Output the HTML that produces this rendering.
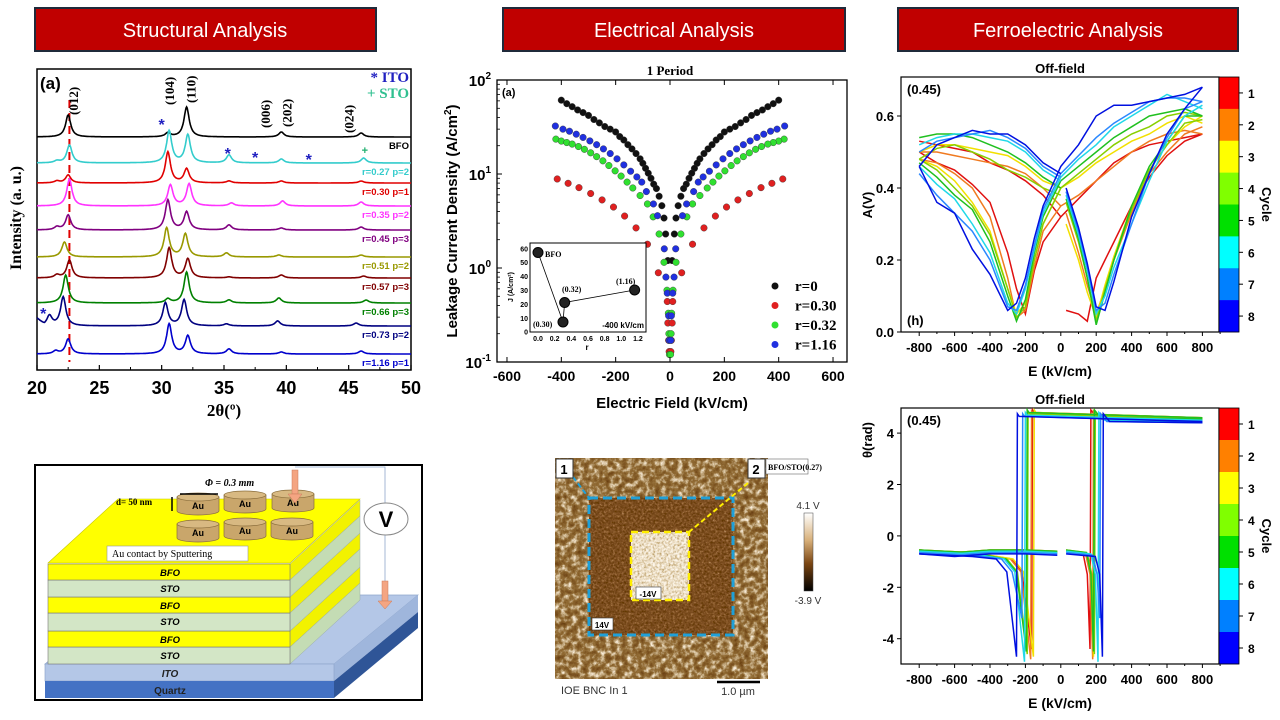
<!DOCTYPE html>
<html><head><meta charset="utf-8"><title>BFO/STO analysis</title>
<style>
html,body{margin:0;padding:0;background:#fff;}
svg{display:block;font-family:"Liberation Sans",sans-serif;}
</style></head>
<body>
<svg id="root" width="1280" height="720" viewBox="0 0 1280 720" xmlns="http://www.w3.org/2000/svg">
<defs>
<filter id="pfmMix" filterUnits="userSpaceOnUse" x="555" y="458" width="213" height="221">
<feTurbulence type="fractalNoise" baseFrequency="0.18" numOctaves="4" seed="4"/>
<feColorMatrix type="matrix" values="1 0 0 0 0 1 0 0 0 0 1 0 0 0 0 0 0 0 0 1"/>
<feComponentTransfer><feFuncR type="table" tableValues="0.12 0.16 0.22 0.3 0.6 0.95 1"/><feFuncG type="table" tableValues="0.05 0.06 0.1 0.16 0.45 0.85 1"/><feFuncB type="table" tableValues="0 0.01 0.02 0.04 0.25 0.7 0.9"/></feComponentTransfer>
</filter>
<filter id="pfmDark" filterUnits="userSpaceOnUse" x="589" y="498" width="144" height="137">
<feTurbulence type="fractalNoise" baseFrequency="0.45" numOctaves="3" seed="7"/>
<feColorMatrix type="matrix" values="1 0 0 0 0 1 0 0 0 0 1 0 0 0 0 0 0 0 0 1"/>
<feComponentTransfer><feFuncR type="table" tableValues="0.08 0.12 0.17 0.23 0.38 0.7"/><feFuncG type="table" tableValues="0.02 0.04 0.06 0.09 0.18 0.5"/><feFuncB type="table" tableValues="0 0 0.01 0.02 0.06 0.3"/></feComponentTransfer>
</filter>
<filter id="pfmLight" filterUnits="userSpaceOnUse" x="631" y="532" width="58" height="68">
<feTurbulence type="fractalNoise" baseFrequency="0.45" numOctaves="3" seed="9"/>
<feColorMatrix type="matrix" values="1 0 0 0 0 1 0 0 0 0 1 0 0 0 0 0 0 0 0 1"/>
<feComponentTransfer><feFuncR type="table" tableValues="0.3 0.5 0.75 0.92 1 1"/><feFuncG type="table" tableValues="0.17 0.35 0.62 0.84 0.95 1"/><feFuncB type="table" tableValues="0.04 0.14 0.42 0.7 0.88 1"/></feComponentTransfer>
</filter>
<linearGradient id="pfmBar" x1="0" y1="0" x2="0" y2="1">
<stop offset="0" stop-color="#ffffff"/><stop offset="0.35" stop-color="#d8b07a"/><stop offset="0.65" stop-color="#7a4512"/><stop offset="1" stop-color="#000000"/>
</linearGradient>
</defs>

<g>
<rect x="35" y="8" width="341" height="43" fill="#c00000" stroke="#1f2a3a" stroke-width="2"/>
<text x="205" y="37" font-size="20" fill="#fff" text-anchor="middle">Structural Analysis</text>
</g>
<g>
<rect x="503" y="8" width="342" height="43" fill="#c00000" stroke="#1f2a3a" stroke-width="2"/>
<text x="674" y="37" font-size="20" fill="#fff" text-anchor="middle">Electrical Analysis</text>
</g>
<g>
<rect x="898" y="8" width="340" height="43" fill="#c00000" stroke="#1f2a3a" stroke-width="2"/>
<text x="1068" y="37" font-size="20" fill="#fff" text-anchor="middle">Ferroelectric Analysis</text>
</g>

<g id="xrd"></g>
<g id="leak"></g>
<g id="ampl"></g>
<g id="phase"></g>

<g>
<rect x="35" y="465" width="387" height="235" fill="#fff" stroke="#000" stroke-width="2"/>
<polygon points="45,664 334,664 418,595 129,595" fill="#b4c7e7" stroke="#8fa6cc" stroke-width="0.7"/>
<polygon points="334,664 418,595 418,612 334,681" fill="#9fb6dc"/>
<rect x="45" y="664" width="289" height="17" fill="#b4c7e7" stroke="#8fa6cc" stroke-width="0.7"/>
<text x="170" y="677" font-size="10" font-weight="bold" font-style="italic" text-anchor="middle" fill="#222">ITO</text>
<polygon points="334,681 418,612 418,628 334,698" fill="#2f5597"/>
<rect x="45" y="681" width="289" height="17" fill="#4472c4"/>
<text x="170" y="694" font-size="10" font-weight="bold" text-anchor="middle" fill="#222">Quartz</text>
<g id="layers"></g>
<polygon points="48,563 290,563 360,499 118,499" fill="#ffff00" stroke="#c8c800" stroke-width="0.6"/>
<g id="discs"></g>
<rect x="107" y="546" width="141" height="15" fill="#fff" stroke="#999" stroke-width="0.6"/>
<text x="112" y="557" font-size="10" font-family="Liberation Serif,serif">Au contact by Sputtering</text>
<text x="205" y="486" font-size="10" font-weight="bold" font-style="italic" font-family="Liberation Serif,serif">Φ = 0.3 mm</text>
<line x1="180" y1="494" x2="218" y2="494" stroke="#000" stroke-width="1.5"/>
<text x="116" y="505" font-size="9" font-weight="bold" font-family="Liberation Serif,serif">d= 50 nm</text>
<line x1="172" y1="497" x2="172" y2="511" stroke="#000" stroke-width="1.5"/>
<polyline points="295,467 385,467 385,503" fill="none" stroke="#8fa6cc" stroke-width="0.8"/>
<line x1="385" y1="535" x2="385" y2="582" stroke="#8fa6cc" stroke-width="0.8"/>
<rect x="292" y="470" width="6" height="24" fill="#f4a582" stroke="#c97a5a" stroke-width="0.5"/>
<polygon points="288,494 302,494 295,503" fill="#f4a582" stroke="#c97a5a" stroke-width="0.5"/>
<rect x="382" y="581" width="6" height="20" fill="#f4a582" stroke="#c97a5a" stroke-width="0.5"/>
<polygon points="378,601 392,601 385,609" fill="#f4a582" stroke="#c97a5a" stroke-width="0.5"/>
<ellipse cx="386" cy="519" rx="22" ry="16" fill="#fff" stroke="#888" stroke-width="1"/>
<text x="386" y="527" font-size="22" font-weight="bold" text-anchor="middle">V</text>
</g>

<g>
<rect x="555" y="458" width="213" height="221" fill="#8a5a2a" filter="url(#pfmMix)"/>
<rect x="589" y="498" width="144" height="137" fill="#3a1a05" filter="url(#pfmDark)"/>
<rect x="631" y="532" width="58" height="68" fill="#e0c8a0" filter="url(#pfmLight)"/>
<rect x="589" y="498" width="144" height="137" fill="none" stroke="#1fa0d8" stroke-width="3" stroke-dasharray="9,5"/>
<rect x="631" y="532" width="58" height="68" fill="none" stroke="#ffee00" stroke-width="2.5" stroke-dasharray="7,4"/>
<line x1="573" y1="477" x2="589" y2="498" stroke="#1fa0d8" stroke-width="2" stroke-dasharray="5,3"/>
<line x1="748" y1="483" x2="689" y2="532" stroke="#ffee00" stroke-width="2" stroke-dasharray="5,3"/>
<rect x="556" y="459" width="17" height="19" fill="#fff" stroke="#333"/>
<text x="564" y="474" font-size="13" font-weight="bold" text-anchor="middle">1</text>
<rect x="748" y="459" width="17" height="19" fill="#fff" stroke="#333"/>
<text x="756" y="474" font-size="13" font-weight="bold" text-anchor="middle">2</text>
<rect x="766" y="459" width="42" height="15" fill="#fff" stroke="#666" stroke-width="0.6"/>
<text x="768" y="470" font-size="8" font-weight="bold" font-family="Liberation Serif,serif">BFO/STO(0.27)</text>
<rect x="636" y="587" width="25" height="12" fill="#fff" stroke="#333" stroke-width="0.6"/>
<text x="648" y="597" font-size="8" font-weight="bold" text-anchor="middle">-14V</text>
<rect x="592" y="618" width="21" height="12" fill="#fff" stroke="#333" stroke-width="0.6"/>
<text x="602" y="628" font-size="8" font-weight="bold" text-anchor="middle">14V</text>
<text x="561" y="694" font-size="11" fill="#333">IOE BNC In 1</text>
<line x1="717" y1="682" x2="760" y2="682" stroke="#000" stroke-width="2.5"/>
<text x="738" y="695" font-size="11" text-anchor="middle" fill="#333">1.0 µm</text>
<rect x="804" y="513" width="9" height="78" fill="url(#pfmBar)" stroke="#444" stroke-width="0.5"/>
<text x="808" y="509" font-size="10" text-anchor="middle" fill="#333">4.1 V</text>
<text x="808" y="604" font-size="10" text-anchor="middle" fill="#333">-3.9 V</text>
</g>
</svg>
<script>
var NS='http://www.w3.org/2000/svg';
function mk(parent,tag,attrs,txt){var e=document.createElementNS(NS,tag);for(var k in attrs)e.setAttribute(k,attrs[k]);if(txt!==undefined)e.textContent=txt;parent.appendChild(e);return e;}

/* ================= XRD data ================= */
var xrdLabels=['BFO','r=0.27 p=2','r=0.30 p=1','r=0.35 p=2','r=0.45 p=3','r=0.51 p=2','r=0.57 p=3','r=0.66 p=3','r=0.73 p=2','r=1.16 p=1'];
var xrdColors=['#000000','#33cccc','#e00000','#ff33ff','#800080','#999900','#800000','#008000','#000080','#0000cc'];
var xrdBaselines=[137,163,183,206,230,257,278,303,326,354];
var xrdPeakPos=[
[22.5,30.5,32.0,39.6,46.0],
[21.6,22.6,30.6,32.1,35.4,39.6,46.2],
[21.6,22.5,30.5,32.0,35.4,39.6,46.0],
[22.6,30.7,32.2,35.6,39.7,46.0],
[21.6,22.5,30.5,32.0,35.4,39.6,46.0],
[22.2,30.4,31.9,35.2,39.4,46.0],
[21.6,22.6,30.6,32.1,35.4,39.6,46.2],
[22.3,30.5,32.0,35.4,39.4,46.4],
[21.0,22.1,30.3,31.8,35.2,39.3,45.6],
[21.5,22.5,30.6,32.1,35.4,39.6,46.0]];
var xrdPeakH=[
[2.2,0.4,3.0,0.5,0.4],
[0.2,1.8,3.2,2.8,0.8,0.4,0.5],
[0.2,0.8,3.1,1.4,0.2,0.2,0.2],
[2.7,2.1,2.2,0.3,0.5,0.4],
[0.3,1.5,3.0,1.8,0.5,0.2,0.3],
[1.5,2.9,2.3,0.4,0.2,0.2],
[0.3,1.8,3.0,1.9,0.1,0.3,0.2],
[2.8,0.4,3.1,0.3,0.5,0.3],
[1.0,2.9,2.3,2.6,0.2,0.5,0.3],
[0.3,1.5,3.0,1.8,0.5,0.2,0.3]];
var xrdTicks=[20,25,30,35,40,45,50];
var xrdHkl=['(012)','(104)','(110)','(006)','(202)','(024)'];
var xrdHklPos=[22.9,30.6,32.3,38.3,40.0,45.0];

(function(){
var g=document.getElementById('xrd');
var X0=37,X1=411,Y0=69,Y1=370;
function sx(t){return X0+(t-20)/30*(X1-X0);}
var unit=10;
var hklBottom=[115,105,103,128,127,133];
mk(g,'rect',{x:X0,y:Y0,width:X1-X0,height:Y1-Y0,fill:'none',stroke:'#000','stroke-width':1.5});
var red=mk(g,'line',{x1:sx(22.6),y1:100,x2:sx(22.6),y2:362,stroke:'#e00000','stroke-width':2,'stroke-dasharray':'8,5'});


for(var i=0;i<xrdLabels.length;i++){
  var d='';var b=xrdBaselines[i];
  for(var t=20;t<=50.001;t+=0.05){
    var v=0;
    for(var p=0;p<xrdPeakPos[i].length;p++){var w=0.25;var u=(t-xrdPeakPos[i][p])/w;v+=xrdPeakH[i][p]/(1+u*u);}
    if(i===8&&t<20.6)v+=(20.6-t)*1.2;
    d+=(d?'L':'M')+sx(t).toFixed(1)+','+(b-v*unit).toFixed(1);
  }
  var pth=mk(g,'path',{d:d,fill:'none',stroke:xrdColors[i],'stroke-width':1.6});
  
  
  var lb=mk(g,'text',{x:409,y:b+12,'font-size':9.5,'font-weight':'bold','text-anchor':'end',fill:xrdColors[i]},xrdLabels[i]);
  
  
}
for(var k=0;k<xrdTicks.length;k++){
  var x=sx(xrdTicks[k]);
  mk(g,'line',{x1:x,y1:Y1,x2:x,y2:Y1-5,stroke:'#000','stroke-width':1.2});
  if(k<xrdTicks.length-1)mk(g,'line',{x1:sx(xrdTicks[k]+2.5),y1:Y1,x2:sx(xrdTicks[k]+2.5),y2:Y1-3,stroke:'#000'});
  var tl=mk(g,'text',{x:x,y:394,'font-size':18,'font-weight':'bold','text-anchor':'middle'},String(xrdTicks[k]));
  
  
}
for(var h=0;h<xrdHkl.length;h++){
  var hx=sx(xrdHklPos[h])+5;var hy=hklBottom[h];
  var ht=mk(g,'text',{x:hx,y:hy,'font-size':13,'font-family':'Liberation Serif,serif','font-weight':'bold',transform:'rotate(-90 '+hx+' '+hy+')','text-anchor':'start'},xrdHkl[h]);
  
  
}
mk(g,'text',{x:40,y:89,'font-size':17,'font-weight':'bold'},'(a)');
var s1=[[30.0,122],[35.3,151],[37.5,155],[41.8,157],[20.5,311]];
for(var s=0;s<s1.length;s++)mk(g,'text',{x:sx(s1[s][0]),y:s1[s][1]+8,'font-size':16,'font-weight':'bold',fill:'#2020c0','text-anchor':'middle'},'*');
mk(g,'text',{x:sx(46.3),y:154,'font-size':11,'font-weight':'bold',fill:'#20b070','text-anchor':'middle'},'+');
mk(g,'text',{x:409,y:82,'font-size':15,'font-weight':'bold','font-family':'Liberation Serif,serif',fill:'#2020c0','text-anchor':'end'},'* ITO');
mk(g,'text',{x:409,y:98,'font-size':15,'font-weight':'bold','font-family':'Liberation Serif,serif',fill:'#30c090','text-anchor':'end'},'+ STO');
var yl=mk(g,'text',{x:21,y:218,'font-size':16,'font-weight':'bold','font-family':'Liberation Serif,serif','text-anchor':'middle',transform:'rotate(-90 21 218)'},'Intensity (a. u.)');


var xl=mk(g,'text',{x:224,y:416,'font-size':17,'font-weight':'bold','font-family':'Liberation Serif,serif','text-anchor':'middle'},'2θ(º)');


})();

/* ================= Leakage data ================= */
var leakSeries=['r=0','r=0.30','r=0.32','r=1.16'];
var leakColors=['#111111','#e02020','#30e030','#2030e0'];
var leakE0=[400,380,360,340,320,300,280,260,240,220,200,185,170,155,140,125,110,100,90,80,70,60,50,40,30,22,16,8];
var leakJ0=[61,56,52,48,45,42,38,35,32,30,28,25,23,20.5,18.5,16.5,14.5,13,11.5,10.2,9,7.8,7,5.8,4.6,3.4,2.3,1.2];
var leakE1=[415,375,335,292,250,208,167,125,83,43,10,8,5,3];
var leakJ1=[8.85,7.96,7.16,6.2,5.3,4.45,3.57,2.67,1.79,0.89,0.44,0.26,0.17,0.129];
var leakE2=[420,400,380,360,337,315,292,270,247,225,202,180,158,137,110,83,62,40,22,11,6,4,2];
var leakJ2=[23.5,22.4,21.6,20.8,19.6,18.3,16.8,15.3,13.8,12.3,10.8,9.5,8.2,7.1,5.9,4.8,3.5,2.3,1.15,0.58,0.33,0.2,0.12];
var leakE3=[422,394,370,345,320,295,270,245,220,195,170,145,122,104,87,61,46,21,15,10,5,3];
var leakJ3=[32.4,30,28.5,26.5,24.5,22.5,20.5,18.5,16.5,14.5,12.5,10.7,9.3,8.2,6.5,4.8,3.6,1.6,0.8,0.54,0.31,0.17];
var leakTicksX=[-600,-400,-200,0,200,400,600];
var insetR=[0.0,0.30,0.32,1.16];
var insetJ=[57,7,21,30];
var insetLbl=['BFO','(0.30)','(0.32)','(1.16)'];
var insetTicksX=[0.0,0.2,0.4,0.6,0.8,1.0,1.2];
var insetTicksY=[0,10,20,30,40,50,60];

(function(){
var g=document.getElementById('leak');
var X0=497,X1=847,Y0=80,Y1=362;
function sx(e){return 670+e*0.2717;}
function sy(j){return Y0+(2-Math.log10(j))*94;}
mk(g,'rect',{x:X0,y:Y0,width:X1-X0,height:Y1-Y0,fill:'none',stroke:'#000','stroke-width':1.3});
mk(g,'text',{x:670,y:75,'font-size':13,'font-weight':'bold','font-family':'Liberation Serif,serif','text-anchor':'middle'},'1 Period');
mk(g,'text',{x:502,y:96,'font-size':11,'font-weight':'bold'},'(a)');
var Es=[leakE0,leakE1,leakE2,leakE3],Js=[leakJ0,leakJ1,leakJ2,leakJ3];
for(var s=0;s<4;s++){
  for(var i=0;i<Es[s].length;i++){
    for(var sg=-1;sg<=1;sg+=2){
      var c=mk(g,'circle',{cx:sx(sg*Es[s][i]),cy:sy(Js[s][i]),r:3.3,fill:leakColors[s],stroke:'#333','stroke-width':0.4});
      
      
    }
  }
  var ly=286+s*19.5;
  var lc=mk(g,'circle',{cx:775,cy:ly,r:3.5,fill:leakColors[s]});
  
  
  var lt=mk(g,'text',{x:795,y:ly+5,'font-size':15,'font-weight':'bold','font-family':'Liberation Serif,serif'},leakSeries[s]);
  
  
}
for(var k=0;k<leakTicksX.length;k++){
  var x=sx(leakTicksX[k]);
  mk(g,'line',{x1:x,y1:Y1,x2:x,y2:Y1-5,stroke:'#000'});
  mk(g,'line',{x1:x,y1:Y0,x2:x,y2:Y0+5,stroke:'#000'});
  var t=mk(g,'text',{x:x,y:381,'font-size':14,'font-weight':'bold','text-anchor':'middle'},String(leakTicksX[k]));
  
  
}
var dec=[2,1,0,-1];
for(var d=0;d<dec.length;d++){
  var y=sy(Math.pow(10,dec[d]));
  mk(g,'line',{x1:X0,y1:y,x2:X0+5,y2:y,stroke:'#000'});
  var tt=mk(g,'text',{x:491,y:y+6,'font-size':15,'font-weight':'bold','text-anchor':'end'});
  mk(tt,'tspan',{},'10');
  mk(tt,'tspan',{'font-size':10,dy:-7},String(dec[d]));
  if(d<3){for(var m=2;m<10;m++){var ym=sy(m*Math.pow(10,dec[d]-1));mk(g,'line',{x1:X0,y1:ym,x2:X0+3,y2:ym,stroke:'#000','stroke-width':0.8});}}
}
var yt=mk(g,'text',{x:457,y:221,'font-size':15,'font-weight':'bold','text-anchor':'middle',transform:'rotate(-90 457 221)'});
mk(yt,'tspan',{},'Leakage Current Density (A/cm');
mk(yt,'tspan',{'font-size':10,dy:-6},'2');
mk(yt,'tspan',{dy:6},')');


var xt=mk(g,'text',{x:672,y:408,'font-size':15,'font-weight':'bold','text-anchor':'middle'},'Electric Field (kV/cm)');


var ig=mk(g,'g',{});


function ix(r){return 538+r*83.3;}
function iy(j){return 331.7-j*1.39;}
mk(ig,'rect',{x:530,y:243,width:116,height:89,fill:'#fff',stroke:'#000','stroke-width':1});
var pts='';for(var i=0;i<insetR.length;i++){pts+=(i?' ':'')+ix(insetR[i])+','+iy(insetJ[i]);}
mk(ig,'polyline',{points:pts,fill:'none',stroke:'#000','stroke-width':0.8});
for(var i=0;i<insetR.length;i++){
  var ic=mk(ig,'circle',{cx:ix(insetR[i]),cy:iy(insetJ[i]),r:5,fill:'#222',stroke:'#000'});
  
  
}
var lpos=[[545,257],[533,327],[562,292],[616,284]];
for(var i=0;i<insetLbl.length;i++)mk(ig,'text',{x:lpos[i][0],y:lpos[i][1],'font-size':8,'font-weight':'bold','font-family':'Liberation Serif,serif'},insetLbl[i]);
mk(ig,'text',{x:644,y:328,'font-size':8,'font-weight':'bold','text-anchor':'end'},'-400 kV/cm');
for(var k=0;k<insetTicksX.length;k++)mk(ig,'text',{x:ix(insetTicksX[k]),y:341,'font-size':7,'font-weight':'bold','text-anchor':'middle'},insetTicksX[k].toFixed(1));
for(var k=0;k<insetTicksY.length;k++)mk(ig,'text',{x:528,y:iy(insetTicksY[k])+3,'font-size':7,'font-weight':'bold','text-anchor':'end'},String(insetTicksY[k]));
mk(ig,'text',{x:587,y:350,'font-size':8,'font-weight':'bold','text-anchor':'middle'},'r');
mk(ig,'text',{x:513,y:287,'font-size':7,'font-weight':'bold','text-anchor':'middle',transform:'rotate(-90 513 287)'},'J (A/cm²)');
})();

/* ================= Ferroelectric data ================= */
var cycleNames=['1','2','3','4','5','6','7','8'];
var cycleColors=['#ff0000','#ff8000','#ffff00','#80ff00','#00e000','#00ffff','#0080ff','#0000ff'];
var lineColors=['#e01010','#f07a20','#f2e000','#88d000','#20c020','#20d8e8','#2a88ff','#0010e0'];
var ampE1=[-800,-700,-600,-500,-400,-300,-200,-100,0];
var ampA1=[
[0.53,0.52,0.51,0.50,0.47,0.45,0.42,0.38,0.32],
[0.50,0.50,0.49,0.48,0.47,0.46,0.44,0.40,0.35],
[0.50,0.52,0.52,0.51,0.50,0.49,0.46,0.42,0.40],
[0.48,0.51,0.52,0.50,0.48,0.45,0.43,0.40,0.38],
[0.54,0.55,0.55,0.54,0.52,0.50,0.47,0.43,0.40],
[0.52,0.54,0.55,0.55,0.54,0.53,0.50,0.45,0.42],
[0.50,0.53,0.54,0.55,0.56,0.54,0.51,0.46,0.43],
[0.46,0.52,0.54,0.56,0.55,0.55,0.52,0.47,0.44]];
var ampE2=[30,100,150,200,250,300,400,500,600,700,800];
var ampA2=[
[0.06,0.05,0.03,0.15,0.20,0.25,0.35,0.43,0.49,0.53,0.55],
[0.33,0.22,0.13,0.05,0.12,0.20,0.33,0.44,0.50,0.55,0.57],
[0.30,0.20,0.11,0.04,0.13,0.21,0.35,0.45,0.52,0.57,0.60],
[0.36,0.25,0.15,0.03,0.12,0.20,0.34,0.45,0.52,0.58,0.59],
[0.37,0.26,0.15,0.02,0.11,0.20,0.35,0.46,0.53,0.60,0.60],
[0.38,0.27,0.17,0.05,0.10,0.18,0.30,0.42,0.53,0.60,0.63],
[0.39,0.28,0.18,0.06,0.08,0.16,0.30,0.44,0.54,0.62,0.64],
[0.40,0.29,0.19,0.07,0.06,0.14,0.32,0.44,0.55,0.62,0.68]];
var ampE3=[800,700,600,500,400,300,200,100,0,-100,-150,-200,-250,-300,-400,-500,-600,-700,-800];
var ampA3=[
[0.55,0.54,0.53,0.52,0.50,0.47,0.42,0.37,0.32,0.25,0.17,0.05,0.12,0.22,0.36,0.41,0.45,0.47,0.50],
[0.55,0.56,0.55,0.53,0.50,0.46,0.42,0.38,0.35,0.28,0.18,0.06,0.04,0.15,0.32,0.40,0.44,0.47,0.48],
[0.58,0.60,0.58,0.55,0.53,0.50,0.47,0.43,0.40,0.30,0.20,0.08,0.05,0.12,0.28,0.36,0.42,0.46,0.48],
[0.60,0.61,0.60,0.57,0.55,0.52,0.48,0.44,0.40,0.30,0.20,0.07,0.04,0.12,0.27,0.35,0.40,0.45,0.48],
[0.60,0.62,0.61,0.60,0.57,0.54,0.50,0.46,0.42,0.32,0.22,0.09,0.03,0.10,0.25,0.34,0.38,0.43,0.47],
[0.62,0.64,0.66,0.63,0.60,0.57,0.52,0.48,0.43,0.33,0.23,0.12,0.05,0.08,0.22,0.30,0.37,0.41,0.46],
[0.64,0.65,0.65,0.64,0.61,0.58,0.54,0.49,0.44,0.34,0.24,0.13,0.06,0.07,0.20,0.28,0.33,0.38,0.44],
[0.68,0.66,0.65,0.64,0.63,0.63,0.60,0.52,0.46,0.35,0.26,0.15,0.08,0.06,0.16,0.23,0.33,0.36,0.46]];
var phaseEcNeg=[-160,-165,-150,-185,-190,-200,-215,-245];
var phaseEcPos=[165,180,185,190,185,210,220,235];
var phaseHigh=[4.6,4.55,4.6,4.55,4.6,4.5,4.45,4.45];
var phaseLow=[-0.55,-0.6,-0.55,-0.6,-0.55,-0.6,-0.65,-0.7];
var phaseMin=[-4.4,-4.8,-4.7,-4.6,-4.5,-4.9,-3.2,-4.7];
var ferroTicksX=[-800,-600,-400,-200,0,200,400,600,800];
var ampTicksY=[0.0,0.2,0.4,0.6];
var phaseTicksY=[-4,-2,0,2,4];

function ferroFrame(g,Y0,Y1,yTicks,yfmt,sy,title,ylab,ylabY){
  var X0=901,X1=1219;
  function sx(e){return 1060.8+e*0.177;}
  mk(g,'rect',{x:X0,y:Y0,width:X1-X0,height:Y1-Y0,fill:'none',stroke:'#000','stroke-width':1.2});
  for(var k=0;k<ferroTicksX.length;k++){
    var x=sx(ferroTicksX[k]);
    mk(g,'line',{x1:x,y1:Y1,x2:x,y2:Y1+4,stroke:'#000'});
    mk(g,'line',{x1:sx(ferroTicksX[k]+100),y1:Y1,x2:sx(ferroTicksX[k]+100),y2:Y1+2,stroke:'#000'});
    var t=mk(g,'text',{x:x,y:Y1+20,'font-size':13,'font-weight':'bold','text-anchor':'middle'},String(ferroTicksX[k]));
    
    
  }
  for(var k=0;k<yTicks.length;k++){
    var y=sy(yTicks[k]);
    mk(g,'line',{x1:X0,y1:y,x2:X0-4,y2:y,stroke:'#000'});
    var t2=mk(g,'text',{x:X0-7,y:y+5,'font-size':13,'font-weight':'bold','text-anchor':'end'},yfmt(yTicks[k]));
    
    
  }
  mk(g,'text',{x:1060,y:Y0-4,'font-size':13,'font-weight':'bold','text-anchor':'middle'},title);
  var xt=mk(g,'text',{x:1060,y:Y1+44,'font-size':14,'font-weight':'bold','text-anchor':'middle'},'E (kV/cm)');
  
  
  var yt=mk(g,'text',{x:872,y:ylabY,'font-size':13,'font-weight':'bold','text-anchor':'middle',transform:'rotate(-90 872 '+ylabY+')'},ylab);
  
  
  mk(g,'text',{x:907,y:Y0+17,'font-size':13,'font-weight':'bold'},'(0.45)');
  var bh=(Y1-Y0)/8;
  for(var c=0;c<8;c++){
    var r=mk(g,'rect',{x:X1,y:Y0+c*bh,width:20,height:bh+0.3,fill:cycleColors[c]});
    
    
    mk(g,'line',{x1:X1+20,y1:Y0+c*bh+bh/2,x2:X1+24,y2:Y0+c*bh+bh/2,stroke:'#000'});
    mk(g,'text',{x:1248,y:Y0+c*bh+bh/2+5,'font-size':12,'font-weight':'bold'},cycleNames[c]);
  }
  mk(g,'rect',{x:X1,y:Y0,width:20,height:Y1-Y0,fill:'none',stroke:'#000','stroke-width':0.8});
  var cy=(Y0+Y1)/2;
  mk(g,'text',{x:1262,y:cy,'font-size':13,'font-weight':'bold','text-anchor':'middle',transform:'rotate(90 1262 '+cy+')'},'Cycle');
  return sx;
}

(function(){
var g=document.getElementById('ampl');
var Y0=77,Y1=332;
function sy(a){return 332-a*360;}
var sx=ferroFrame(g,Y0,Y1,ampTicksY,function(v){return v.toFixed(1);},sy,'Off-field','A(V)',205);
mk(g,'text',{x:907,y:325,'font-size':13,'font-weight':'bold'},'(h)');
for(var c=0;c<8;c++){
  var segs=[[ampE1,ampA1[c]],[ampE2,ampA2[c]],[ampE3,ampA3[c]]];
  for(var s=0;s<3;s++){
    var pts='';
    for(var i=0;i<segs[s][0].length;i++)pts+=sx(segs[s][0][i]).toFixed(1)+','+sy(segs[s][1][i]).toFixed(1)+' ';
    var pl=mk(g,'polyline',{points:pts,fill:'none',stroke:lineColors[c],'stroke-width':1.5});
    
    
  }
}
})();

(function(){
var g=document.getElementById('phase');
var Y0=408,Y1=664;
function sy(t){return 535.9-t*25.7;}
var sx=ferroFrame(g,Y0,Y1,phaseTicksY,function(v){return String(v);},sy,'Off-field','θ(rad)',440);
for(var c=0;c<8;c++){
  var hi=phaseHigh[c],lo=phaseLow[c],en=phaseEcNeg[c],ep=phaseEcPos[c],mn=phaseMin[c];
  var down=[[800,hi],[en+10,hi+0.2],[en,hi+0.3],[en-5,mn],[en-60,-1.4],[en-120,-0.9],[-500,lo-0.1],[-800,lo]];
  var up=[[-800,lo],[-600,lo-0.1],[-400,lo],[-200,lo],[-20,lo-0.05]];
  var up2=[[30,lo],[ep-40,lo-0.1],[ep-15,-1.5],[ep,mn],[ep+5,hi+0.3],[ep+40,hi],[800,hi-0.05]];
  var all=[down,up,up2];
  for(var s=0;s<3;s++){
    var pts='';
    for(var i=0;i<all[s].length;i++)pts+=sx(all[s][i][0]).toFixed(1)+','+sy(all[s][i][1]).toFixed(1)+' ';
    var pl=mk(g,'polyline',{points:pts,fill:'none',stroke:lineColors[c],'stroke-width':1.5});
    
    
  }
}
})();

var stackNames=['BFO','STO','BFO','STO','BFO','STO'];
(function(){
var g=document.getElementById('layers');
var tops=[564,580,597,613,631,647,664];
for(var i=stackNames.length-1;i>=0;i--){
  var yt=tops[i],yb=tops[i+1];
  var col=stackNames[i]==='BFO'?'#ffff00':'#d3e6c6';
  var side=stackNames[i]==='BFO'?'#f2f200':'#c4dcb4';
  mk(g,'polygon',{points:'290,'+yt+' 360,'+(yt-64)+' 360,'+(yb-64)+' 290,'+yb,fill:side,stroke:'#9aa','stroke-width':0.5});
  var r=mk(g,'rect',{x:48,y:yt,width:242,height:yb-yt,fill:col,stroke:'#777','stroke-width':0.6});
  
  
  mk(g,'text',{x:170,y:yt+12,'font-size':9.5,'font-weight':'bold','font-style':'italic','text-anchor':'middle'},stackNames[i]);
}
var d=document.getElementById('discs');
var cx=[198,245,293,198,245,292],cyv=[505,503,502,532,530,530];
for(var k=0;k<6;k++){
  var gg=mk(d,'g',{});
  
  
  mk(gg,'path',{d:'M'+(cx[k]-21)+','+(cyv[k]-8)+' L'+(cx[k]-21)+','+(cyv[k]+6)+' A21,4 0 0 0 '+(cx[k]+21)+','+(cyv[k]+6)+' L'+(cx[k]+21)+','+(cyv[k]-8)+' Z',fill:'#c9a66b',stroke:'#8a6d3b','stroke-width':0.7});
  mk(gg,'ellipse',{cx:cx[k],cy:cyv[k]-8,rx:21,ry:4,fill:'#d8b982',stroke:'#8a6d3b','stroke-width':0.7});
  mk(gg,'text',{x:cx[k],y:cyv[k]+4,'font-size':9,'font-weight':'bold','text-anchor':'middle'},'Au');
}
})();
</script>
</body></html>
